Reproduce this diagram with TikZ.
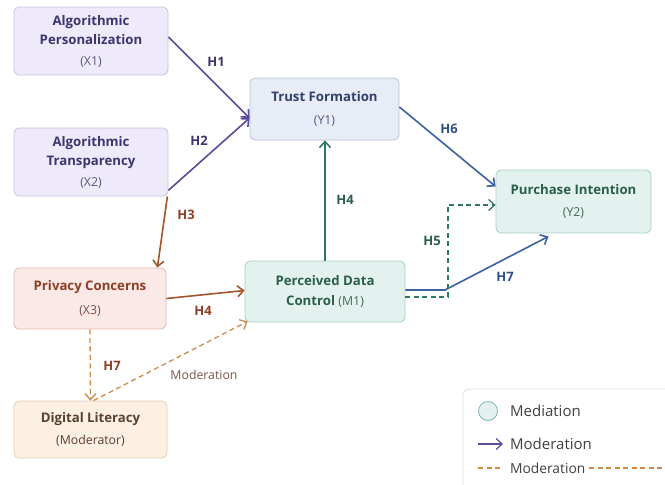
\documentclass[tikz,border=0pt]{standalone}
\usepackage{fontspec}
\setmainfont{Open Sans}
\usepackage{tikz}
\usetikzlibrary{arrows.meta}
\usetikzlibrary{positioning}

\definecolor{pathpurple}{HTML}{5A4A9E}
\definecolor{pathbrown}{HTML}{A5552B}
\definecolor{pathgreen}{HTML}{2E7A60}
\definecolor{pathblue}{HTML}{3A62A2}
\definecolor{modorange}{HTML}{D08A4A}
\definecolor{lblpurple}{HTML}{3D3470}
\definecolor{lblbrown}{HTML}{8E3E22}
\definecolor{lblgreen}{HTML}{2A5E4C}
\definecolor{lblblue}{HTML}{2F5088}
% box colours
\definecolor{xfill}{HTML}{EEEAFA}
\definecolor{xline}{HTML}{C8C2E0}
\definecolor{xsub}{HTML}{5A5680}
\definecolor{yfill}{HTML}{E8ECF7}
\definecolor{yline}{HTML}{B8C0D8}
\definecolor{ytext}{HTML}{33406A}
\definecolor{gfill}{HTML}{E3F2EE}
\definecolor{gline}{HTML}{A6CFC2}
\definecolor{gsub}{HTML}{3F6A5C}
\definecolor{pfill}{HTML}{FBE9E7}
\definecolor{pline}{HTML}{E2B6AE}
\definecolor{psub}{HTML}{7A5048}
\definecolor{dfill}{HTML}{FBF0E2}
\definecolor{dline}{HTML}{E0CDB5}
\definecolor{dtext}{HTML}{5A4030}

\tikzset{
% Define standard arrow tip
>={Straight Barb[length=6pt,width=11pt]},
box/.style={rectangle, rounded corners=5pt, align=center, line width=0.8pt,
  font=\fontsize{13.2}{19.5}\selectfont\bfseries},
hlabel/.style={font=\fontsize{13}{14}\selectfont\bfseries},
}
\newcommand{\subtag}[2]{{\color{#1}\mdseries\fontsize{12.3}{14}\selectfont#2}}

\begin{document}
\begin{tikzpicture}[x=1pt, y=-1pt, line width=1.6pt]
  \useasboundingbox (0,0) rectangle (665,485);

  % constructs
  \node[box, draw=xline, fill=xfill, text=lblpurple,
    minimum width=154pt, minimum height=68pt] (x1) at (91,41)
    {Algorithmic\\Personalization\\[1pt]\subtag{xsub}{(X1)}};
  \node[box, draw=xline, fill=xfill, text=lblpurple,
    minimum width=154pt, minimum height=68pt] (x2) at (91,162)
    {Algorithmic\\Transparency\\[1pt]\subtag{xsub}{(X2)}};
  \node[box, draw=yline, fill=yfill, text=ytext,
    minimum width=149pt, minimum height=62pt] (y1) at (324.5,109)
    {Trust Formation\\[3.5pt]\subtag{xsub}{(Y1)}};
  \node[box, draw=gline, fill=gfill, text=lblgreen,
    minimum width=155pt, minimum height=63pt] (y2) at (573.5,201.5)
    {Purchase Intention\\[2.5pt]\subtag{gsub}{(Y2)}};
  \node[box, draw=pline, fill=pfill, text=lblbrown,
    minimum width=152pt, minimum height=61pt] (x3) at (90,298.5)
    {Privacy Concerns\\[4.5pt]\subtag{psub}{(X3)}};
  \node[box, draw=gline, fill=gfill, text=lblgreen,
    minimum width=160pt, minimum height=61pt] (m1) at (325,291.5)
    {Perceived Data\\Control \subtag{gsub}{(M1)}};
  \node[box, draw=dline, fill=dfill, text=dtext,
    minimum width=153pt, minimum height=57pt] (dl) at (90.5,429.5)
    {Digital Literacy\\[2.5pt]\subtag{dtext}{(Moderator)}};

  % direct paths
  \draw[->, pathpurple] ([yshift=4pt]x1.east) -- ([yshift=-9pt]y1.west);
  \draw[->, pathpurple] ([yshift=6pt]x2.south east) -- ([yshift=-9pt]y1.west);
  \draw[->, pathbrown] ([xshift=-1pt]x2.south east) -- ([xshift=-9pt]x3.north east);
  \draw[->, pathbrown] (x3.east) -- ([yshift=1pt]m1.west);
  \draw[->, pathgreen] (m1.north) -- (m1.north |- y1.south);
  \draw[->, pathblue] ([yshift=2pt]y1.east) -- ([yshift=15pt]y2.west);

  % H7 and H5 into purchase intention
  \coordinate (h7bend) at (445,290);
  \draw[->, pathblue] ([yshift=1.5pt]m1.east) -- (h7bend) -- ([xshift=-25pt,yshift=-3pt]y2.south);
  \coordinate (h5low) at (448,297);
  \draw[->, pathgreen, line width=1.3pt, dash pattern=on 5pt off 3.5pt]
    ([yshift=-5.5pt]m1.east) -- (h5low) |- ([yshift=-3.5pt]y2.west);

  % moderation
  \draw[->, modorange, line width=1.3pt, dash pattern=on 5pt off 3.5pt] (x3.south) -- (dl.north);
  \draw[->, modorange, line width=1.3pt, dash pattern=on 5pt off 3.5pt]
    ([xshift=3pt]dl.north) -- ([xshift=3pt,yshift=1pt]m1.south west);

  % path labels
  \node[hlabel, text=lblpurple] (lh1) at (216,62) {H1};
  \node[hlabel, text=lblpurple] (lh2) at (199,141) {H2};
  \node[hlabel, text=lblbrown] (lh3) at (186,215) {H3};
  \node[hlabel, text=lblbrown] (lh4a) at (203,311) {H4};
  \node[hlabel, text=lblgreen] (lh4b) at (345,200) {H4};
  \node[hlabel, text=lblblue] (lh6) at (449,129) {H6};
  \node[hlabel, text=lblgreen] (lh5) at (432,241) {H5};
  \node[hlabel, text=lblblue] (lh7a) at (505,277) {H7};
  \node[hlabel, text=lblbrown] (lh7b) at (112,366) {H7};
  \node[font=\fontsize{12.3}{14}\selectfont, text=psub] (lmod) at (204,375) {Moderation};

  % legend
  \draw[gray!25, line width=0.8pt, rounded corners=6pt, fill=white] (463,389) rectangle (700,520);
  \node[circle, draw=gline!80!teal, fill=gfill, line width=0.9pt, minimum size=19pt, inner sep=0] (legmed) at (488,411) {};
  \node[anchor=west, text=black!75, font=\fontsize{15}{16}\selectfont] (legmedtxt) at (506,411) {Mediation};
  \coordinate (legarra) at (478,444);
  \coordinate (legarrb) at (503,444);
  \draw[->, pathpurple, line width=1.2pt] (legarra) -- (legarrb);
  \node[anchor=west, text=black!75, font=\fontsize{15}{16}\selectfont] (legmodtxt) at (506,444) {Moderation};
  \coordinate (legdasha) at (478,468);
  \coordinate (legdashb) at (501,468);
  \draw[modorange, line width=1.2pt, dash pattern=on 5pt off 3.5pt] (legdasha) -- (legdashb);
  \node[anchor=west, text=black!75, font=\fontsize{13.8}{14}\selectfont] (legdashtxt) at (506,468) {Moderation};
  \coordinate (legtail) at (667,468);
  \draw[modorange, line width=1.2pt, dash pattern=on 5pt off 3.5pt] (legdashtxt.east) -- (legtail);
\end{tikzpicture}
\end{document}
